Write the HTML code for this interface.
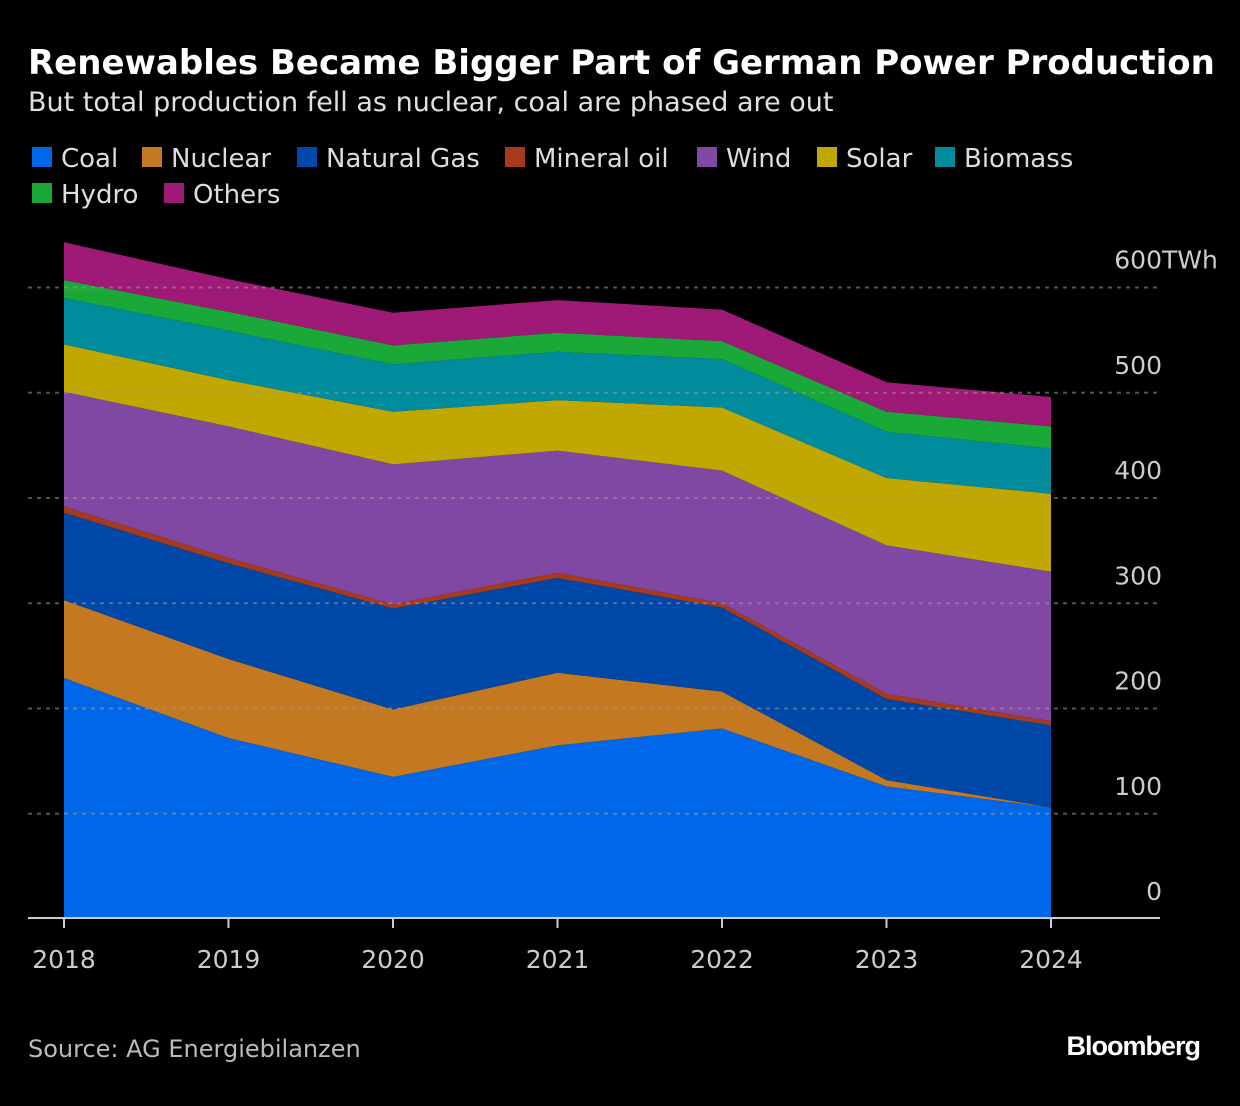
<!DOCTYPE html>
<html><head><meta charset="utf-8"><style>
body{margin:0;background:#000;width:1240px;height:1106px;overflow:hidden;font-family:"Liberation Sans","DejaVu Sans",sans-serif;color:#fff}
svg{position:absolute;left:0;top:0}
</style></head><body>
<svg id="c" width="1240" height="1106">
<text x="28" y="74" font-size="34" font-weight="bold" fill="#fff" font-family="DejaVu Sans, sans-serif">Renewables Became Bigger Part of German Power Production</text>
<text x="28" y="111" font-size="27" fill="#e0e0e0" font-family="DejaVu Sans, sans-serif">But total production fell as nuclear, coal are phased are out</text>
<g id="legend"></g>
<g id="grid"></g><g id="areas"></g><g id="over"></g><g id="axis"></g>
<text x="28" y="1057" font-size="24" fill="#bbb" font-family="DejaVu Sans, sans-serif">Source: AG Energiebilanzen</text>
<text x="1200" y="1055" font-size="27" font-weight="bold" fill="#fff" text-anchor="end" letter-spacing="-1">Bloomberg</text>
</svg>
<script>
const years=["2018","2019","2020","2021","2022","2023","2024"];
const seriesNames=["Coal","Nuclear","Natural Gas","Mineral oil","Wind","Solar","Biomass","Hydro","Others"];
const coal=[229,172,135,165,181,126,106];
const nuclear=[74,75,64,69,35,6,0];
const gas=[83,91,96,90,80,77,78];
const oil=[6,5,4,5,4,5,4];
const wind=[109,125,133,116,126,141,142];
const solar=[45,44,50,48,60,64,74];
const biomass=[44,47,45,46,46,44,43];
const hydro=[17,18,18,18,17,19,21];
const others=[36,31,31,31,30,28,28];
const yTicks=[0,100,200,300,400,500,600];
const colors=["#0068e8","#c47820","#0048a8","#a83a1c","#8048a2","#c0a800","#008c9c","#1aa838","#9e1a76"];
const data=[coal,nuclear,gas,oil,wind,solar,biomass,hydro,others];
const NS="http://www.w3.org/2000/svg";
function el(t,a,p){const e=document.createElementNS(NS,t);for(const k in a)e.setAttribute(k,a[k]);p.appendChild(e);return e;}
const X=i=>64+i*(1051-64)/(years.length-1);
const Y=v=>919-v*1.0525;
const lg=document.getElementById('legend');
const lpos=[[32,167],[142,167],[297,167],[505,167],[697,167],[817,167],[935,167],[32,203],[164,203]];
seriesNames.forEach((n,i)=>{
 const r=el('rect',{x:lpos[i][0],y:lpos[i][1]-20,width:20,height:20,fill:colors[i]},lg);
 
 
 const t=el('text',{x:lpos[i][0]+29,y:lpos[i][1],'font-size':26,fill:'#ddd','font-family':'DejaVu Sans, sans-serif'},lg);
 t.textContent=n;
 
 
});
const ag=document.getElementById('areas');
let base=years.map(()=>0);
data.forEach((s,k)=>{
 const top=base.map((b,i)=>b+s[i]);
 let d='M'+years.map((_,i)=>X(i)+','+Y(top[i])).join(' L');
 for(let i=years.length-1;i>=0;i--)d+=' L'+X(i)+','+Y(base[i]);
 const p=el('path',{d:d+'Z',fill:colors[k]},ag);
 
 
 base=top;
});
const ov=document.getElementById('over');
yTicks.forEach(v=>{
 if(v>0){const l=el('line',{x1:28,x2:1160,y1:Y(v),y2:Y(v),stroke:'#999','stroke-width':2,'stroke-dasharray':'4,5','stroke-opacity':0.55},ov);
 
 }
 const t=el('text',{x:1162,y:Y(v)-19,'font-size':25,fill:'#ccc','text-anchor':'end','font-family':'DejaVu Sans, sans-serif'},ov);
 t.textContent=v;
 
 
 if(v===600){const u=el('text',{x:1162,y:Y(v)-19,'font-size':25,fill:'#ccc','font-family':'DejaVu Sans, sans-serif'},ov);u.textContent='TWh';
 
 }
});
const ax=document.getElementById('axis');
const bl=el('line',{x1:28,x2:1160,y1:918,y2:918,stroke:'#ccc','stroke-width':2},ax);


years.forEach((yr,i)=>{
 el('line',{x1:X(i),x2:X(i),y1:918,y2:928,stroke:'#ccc','stroke-width':2},ax);
 const t=el('text',{x:X(i),y:968,'font-size':25,fill:'#ccc','text-anchor':'middle','font-family':'DejaVu Sans, sans-serif'},ax);
 t.textContent=yr;
 
 
});
</script>
</body></html>
